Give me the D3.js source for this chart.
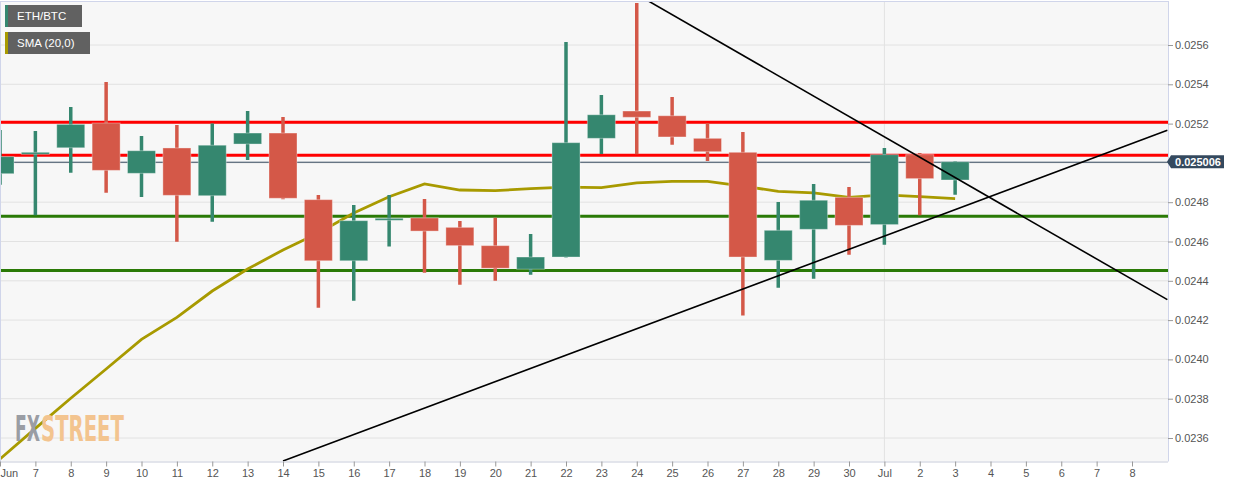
<!DOCTYPE html>
<html><head><meta charset="utf-8">
<script src="https://cdn.jsdelivr.net/npm/d3@7"></script>
<style>
body{margin:0;background:#fff;}
svg{display:block;font-family:"Liberation Sans",Arial,sans-serif;}
</style>
</head><body>
<svg id="chart" width="1244" height="487"></svg>
<script>
// ---- data ----
const dates = ["2020-06-06","2020-06-07","2020-06-08","2020-06-09","2020-06-10","2020-06-11","2020-06-12","2020-06-13","2020-06-14","2020-06-15","2020-06-16","2020-06-17","2020-06-18","2020-06-19","2020-06-20","2020-06-21","2020-06-22","2020-06-23","2020-06-24","2020-06-25","2020-06-26","2020-06-27","2020-06-28","2020-06-29","2020-06-30","2020-07-01","2020-07-02","2020-07-03"];
const openV  = [0.024945,0.025045,0.025077,0.025203,0.024947,0.025076,0.024833,0.025096,0.025152,0.024813,0.024502,0.024711,0.024720,0.024672,0.024579,0.024459,0.024521,0.025125,0.025264,0.025240,0.025125,0.025054,0.024504,0.024662,0.024825,0.024686,0.025042,0.024913];
const highV  = [0.025167,0.025162,0.025284,0.025412,0.025137,0.025193,0.025200,0.025264,0.025234,0.024837,0.024786,0.024837,0.024816,0.024704,0.024721,0.024638,0.025615,0.025346,0.025814,0.025335,0.025202,0.025157,0.024801,0.024893,0.024877,0.025076,0.025050,0.025009];
const lowV   = [0.024889,0.024733,0.024950,0.024848,0.024826,0.024599,0.024701,0.025015,0.024815,0.024263,0.024299,0.024574,0.024441,0.024380,0.024400,0.024431,0.024518,0.025045,0.025044,0.025093,0.025010,0.024224,0.024365,0.024411,0.024533,0.024584,0.024733,0.024838];
const closeV = [0.025032,0.025054,0.025196,0.024962,0.025062,0.024835,0.025090,0.025152,0.024820,0.024502,0.024706,0.024718,0.024653,0.024579,0.024464,0.024521,0.025103,0.025245,0.025232,0.025132,0.025057,0.024521,0.024657,0.024810,0.024682,0.025042,0.024920,0.025006];
const smaV   = [0.023493,0.023649,0.023802,0.023951,0.024102,0.024214,0.024348,0.024460,0.024557,0.024643,0.024745,0.024828,0.024893,0.024862,0.024859,0.024869,0.024877,0.024874,0.024898,0.024906,0.024906,0.024882,0.024855,0.024847,0.024825,0.024837,0.024828,0.024818];
const resistanceLevels = [0.025207, 0.025039];
const supportLevels = [0.024728, 0.024453];
const trendDown = [["2020-06-24",0.025858],["2020-07-09",0.024304]];
const trendUp = [["2020-06-14",0.023483],["2020-07-09",0.025166]];
const lastPrice = 0.025006;
const yTicks = [0.0236,0.0238,0.0240,0.0242,0.0244,0.0246,0.0248,0.0250,0.0252,0.0254,0.0256];
const yTicksHiddenLabel = [0.0250];
const xTickDates = ["2020-06-06","2020-06-07","2020-06-08","2020-06-09","2020-06-10","2020-06-11","2020-06-12","2020-06-13","2020-06-14","2020-06-15","2020-06-16","2020-06-17","2020-06-18","2020-06-19","2020-06-20","2020-06-21","2020-06-22","2020-06-23","2020-06-24","2020-06-25","2020-06-26","2020-06-27","2020-06-28","2020-06-29","2020-06-30","2020-07-01","2020-07-02","2020-07-03","2020-07-04","2020-07-05","2020-07-06","2020-07-07","2020-07-08"];
const xTickLabels = ["Jun","7","8","9","10","11","12","13","14","15","16","17","18","19","20","21","22","23","24","25","26","27","28","29","30","Jul","2","3","4","5","6","7","8"];
const legendItems = [["ETH/BTC","#35876f"],["SMA (20,0)","#a89a00"]];

// ---- setup ----
const parse = d3.utcParse("%Y-%m-%d");
const W = 1168, plotTop = 1, plotBottom = 461.5;
const x = d3.scaleUtc().domain([parse("2020-06-06"), parse("2020-07-09")]).range([0, 33*35.375]);
const y = d3.scaleLinear().domain([0.0236, 0.0256]).range([438, 45]);

const svg = d3.select("#chart");
svg.append("defs").append("clipPath").attr("id","clip")
  .append("rect").attr("x",0).attr("y",plotTop).attr("width",W).attr("height",plotBottom-plotTop);

svg.append("rect").attr("x",0).attr("y",plotTop).attr("width",W).attr("height",plotBottom-plotTop).attr("fill","#f7f7f7");

const plot = svg.append("g").attr("clip-path","url(#clip)");

// grid
plot.selectAll(".hg").data(yTicks).join("line")
  .attr("x1",0).attr("x2",W).attr("y1",d=>y(d)).attr("y2",d=>y(d))
  .attr("stroke","#e2e2e2").attr("stroke-width",1);
plot.append("line").attr("x1",x(parse("2020-07-01"))).attr("x2",x(parse("2020-07-01")))
  .attr("y1",plotTop).attr("y2",plotBottom).attr("stroke","#e2e2e2");

// watermark (scaled horizontally to a condensed logo look)
const wmFont = "'DejaVu Sans Condensed','DejaVu Sans',sans-serif";
[["FX","#9a9da4",15,25],["STREET","#f3c48f",41,83]].forEach(([t,c,x0,w])=>{
  const g = svg.append("g");
  const tx = g.append("text").attr("x",0).attr("y",0)
    .attr("font-family",wmFont).attr("font-weight","bold").attr("font-size",36)
    .attr("fill",c).text(t);
  const nat = tx.node().getComputedTextLength();
  g.attr("transform",`translate(${x0},441) scale(${w/nat},1)`);
});

// price line
plot.append("line").attr("x1",0).attr("x2",W).attr("y1",y(lastPrice)+0.5).attr("y2",y(lastPrice)+0.5)
  .attr("stroke","#34495e").attr("stroke-width",1);

// levels
plot.selectAll(".res").data(resistanceLevels).join("line")
  .attr("x1",0).attr("x2",W).attr("y1",d=>y(d)).attr("y2",d=>y(d))
  .attr("stroke","#ff0000").attr("stroke-width",3);
plot.selectAll(".sup").data(supportLevels).join("line")
  .attr("x1",0).attr("x2",W).attr("y1",d=>y(d)).attr("y2",d=>y(d))
  .attr("stroke","#2a7a06").attr("stroke-width",3);

// SMA
const smaData = dates.map((d,i)=>[parse(d), smaV[i]]);
plot.append("path").datum(smaData)
  .attr("d", d3.line().x(d=>x(d[0])).y(d=>y(d[1])))
  .attr("fill","none").attr("stroke","#a89a00").attr("stroke-width",2.8);

// candles
const candles = dates.map((d,i)=>({t:parse(d),o:openV[i],h:highV[i],l:lowV[i],c:closeV[i]}));
const cg = plot.selectAll(".candle").data(candles).join("g");
const col = d => d.c >= d.o ? "#35876f" : "#d45848";
cg.append("line")
  .attr("x1",d=>x(d.t)).attr("x2",d=>x(d.t))
  .attr("y1",d=>y(d.h)).attr("y2",d=>y(d.l))
  .attr("stroke",col).attr("stroke-width",3.5);
cg.append("rect")
  .attr("x",d=>x(d.t)-14).attr("width",28)
  .attr("y",d=>y(Math.max(d.o,d.c)))
  .attr("height",d=>Math.max(2, Math.abs(y(d.o)-y(d.c))))
  .attr("fill",col).attr("stroke","rgba(255,255,255,0.35)").attr("stroke-width",1);

// trend lines
[trendDown, trendUp].forEach(tl=>{
  plot.append("path").datum(tl.map(p=>[parse(p[0]),p[1]]))
    .attr("d", d3.line().x(d=>x(d[0])).y(d=>y(d[1])))
    .attr("fill","none").attr("stroke","#000").attr("stroke-width",1.6);
});

// borders
svg.append("line").attr("x1",0.5).attr("x2",0.5).attr("y1",plotTop).attr("y2",plotBottom).attr("stroke","#d0d5ea");
svg.append("line").attr("x1",0).attr("x2",W).attr("y1",plotTop+0.5).attr("y2",plotTop+0.5).attr("stroke","#d0d5ea");
svg.append("line").attr("x1",W+0.5).attr("x2",W+0.5).attr("y1",plotTop).attr("y2",plotBottom).attr("stroke","#d0d5ea");

// axes
const yAxis = svg.append("g").attr("transform",`translate(${W},0)`)
  .call(d3.axisRight(y).tickValues(yTicks).tickSize(5).tickPadding(2)
    .tickFormat(d=>yTicksHiddenLabel.includes(d) ? "" : d3.format(".4f")(d)));
yAxis.select(".domain").remove();
yAxis.selectAll("line").attr("stroke","#999");
yAxis.selectAll("text").attr("fill","#555").attr("font-size",11).attr("font-family","'Liberation Sans',Arial,sans-serif");

const xAxis = svg.append("g").attr("transform",`translate(0,${plotBottom})`)
  .call(d3.axisBottom(x).tickValues(xTickDates.map(parse)).tickSize(5).tickFormat((d,i)=>xTickLabels[i]));
xAxis.select(".domain").attr("stroke","#c8ccda").attr("d",`M0,0.5H${W}`);
xAxis.selectAll("line").attr("stroke","#999");
xAxis.selectAll("text").attr("fill","#555").attr("font-size",11).attr("font-family","'Liberation Sans',Arial,sans-serif");
xAxis.selectAll("text").filter((d,i)=>i===0).attr("text-anchor","start").attr("x",0);

// price label
const py = y(lastPrice);
svg.append("path")
  .attr("d",`M${W-1},${py} L${W+3},${py-6.5} L${W+56},${py-6.5} L${W+56},${py+6.5} L${W+3},${py+6.5} Z`)
  .attr("fill","#34495e");
svg.append("text").attr("x",W+30).attr("y",py+4).attr("text-anchor","middle")
  .attr("fill","#fff").attr("font-weight","bold").attr("font-size",11).text(d3.format(".6f")(lastPrice));

// legend
const lg = svg.selectAll(".lg").data(legendItems).join("g")
  .attr("transform",(d,i)=>`translate(5,${5+i*27})`);
lg.append("rect").attr("height",22).attr("width",d=>d[0].length>8?85:77).attr("fill","#5b5b5b").attr("opacity",0.96);
lg.append("rect").attr("height",22).attr("width",3).attr("fill",d=>d[1]);
lg.append("text").attr("x",12).attr("y",15).attr("fill","#fff").attr("font-size",11.5).text(d=>d[0]);
</script>
</body></html>
